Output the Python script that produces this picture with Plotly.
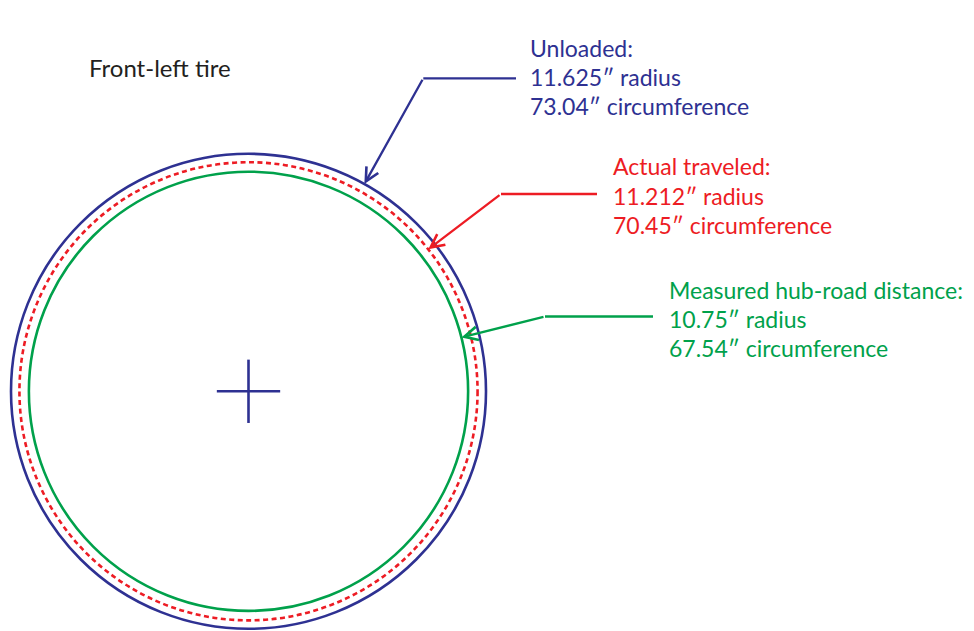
import math
import plotly.graph_objects as go

# ---- data ----
series_names = ["Unloaded:", "Actual traveled:", "Measured hub-road distance:"]
radius_in = [11.625, 11.212, 10.75]
circumference_in = [73.04, 70.45, 67.54]
title_text = "Front-left tire"

# ---- styles / layout (not data) ----
colors = ["#2e3192", "#ed1c24", "#00a14b"]
dashes = ["solid", "5px,3.5px", "solid"]
tip_angle_deg = [60.8, 38.3, 14.2]
# leader line bend and end points, label anchors (screen pixels)
bend_px = [(423.3, 78.3), (501.0, 194.0), (545.0, 316.5)]
end_px = [(516.0, 78.3), (597.0, 194.0), (653.0, 316.5)]
label_px = [(528.0, 47.5), (610.5, 166.3), (666.5, 289.5)]
line_gap = 29.3

W, H = 974, 631
OFF = 8                         # default page body margin
CX, CY = 248.5 - OFF, 391.3 - OFF   # centre of the wheel, figure pixels
S = 237.5 / radius_in[0]       # pixels per inch

def px2x(px):
    return (px - OFF - CX) / S

def py2y(py):
    return (CY - (py - OFF)) / S

def paper_x(px):
    return (px - OFF) / W

def paper_y(py):
    return 1 - (py - OFF) / H

FONT = "Lato, 'Open Sans', sans-serif"
FS = 23

fig = go.Figure()
fig.add_trace(go.Scatter(x=[0], y=[0], mode="markers", marker=dict(size=1, opacity=0),
                         hoverinfo="skip", showlegend=False))

shapes = []
annotations = []

# circles
for r, c, d in zip(radius_in, colors, dashes):
    shapes.append(dict(type="circle", xref="x", yref="y", x0=-r, x1=r, y0=-r, y1=r,
                       line=dict(color=c, width=2.6, dash=d)))

# centre cross
cross = 1.55
shapes.append(dict(type="line", xref="x", yref="y", x0=-cross, x1=cross, y0=0, y1=0,
                   line=dict(color=colors[0], width=2.6)))
shapes.append(dict(type="line", xref="x", yref="y", x0=0, x1=0, y0=-cross, y1=cross,
                   line=dict(color=colors[0], width=2.6)))

for i, (name, r, circ) in enumerate(zip(series_names, radius_in, circumference_in)):
    c = colors[i]
    a = math.radians(tip_angle_deg[i])
    tx, ty = r * math.cos(a), r * math.sin(a)
    bx, by = px2x(bend_px[i][0]), py2y(bend_px[i][1])
    ex, ey = px2x(end_px[i][0]), py2y(end_px[i][1])
    # horizontal part of leader
    shapes.append(dict(type="line", xref="x", yref="y", x0=bx, x1=ex, y0=by, y1=ey,
                       line=dict(color=c, width=2.3)))
    # arrow part of leader
    annotations.append(dict(x=tx, y=ty, xref="x", yref="y", ax=bx, ay=by, axref="x", ayref="y",
                            text="", showarrow=True, arrowhead=5, arrowsize=1.15, arrowwidth=2.3,
                            arrowcolor=c, standoff=0, startstandoff=0))
    lines = [name, f"{r}\u2033 radius", f"{circ}\u2033 circumference"]
    lx, ly = label_px[i]
    for k, t in enumerate(lines):
        annotations.append(dict(x=paper_x(lx), y=paper_y(ly + k * line_gap),
                                xref="paper", yref="paper",
                                xanchor="left", yanchor="middle", text=t, showarrow=False,
                                font=dict(family=FONT, size=FS, color=c)))

annotations.append(dict(x=paper_x(87), y=paper_y(67), xref="paper", yref="paper", xanchor="left",
                        yanchor="middle", text=title_text, showarrow=False,
                        font=dict(family=FONT, size=24, color="#231f20")))

fig.update_layout(
    width=W, height=H, margin=dict(l=0, r=0, t=0, b=0),
    paper_bgcolor="white", plot_bgcolor="white",
    xaxis=dict(range=[px2x(OFF), px2x(W + OFF)], visible=False, fixedrange=True),
    yaxis=dict(range=[py2y(H + OFF), py2y(OFF)], visible=False, fixedrange=True),
    shapes=shapes, annotations=annotations, showlegend=False,
)

fig.write_html("out.html")
